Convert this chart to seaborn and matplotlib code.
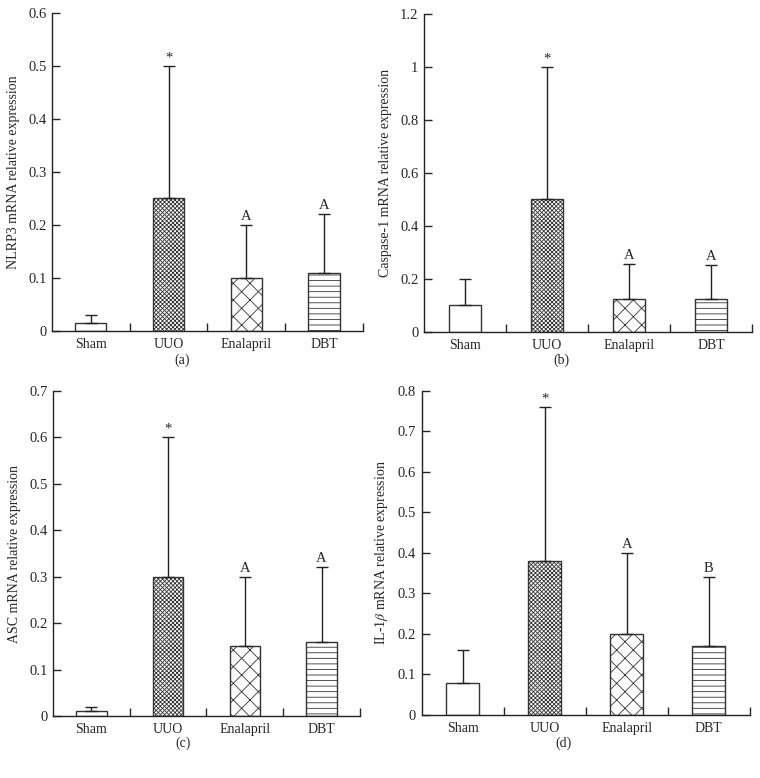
import numpy as np
import pandas as pd
import seaborn as sns
import matplotlib.pyplot as plt
from matplotlib.ticker import FixedLocator

# groups and read-off values (mean and upper error)
groups = ['Sham', 'UUO', 'Enalapril', 'DBT']

nlrp3_mean = [0.015, 0.25, 0.10, 0.11]
nlrp3_err = [0.015, 0.25, 0.10, 0.11]

casp1_mean = [0.10, 0.50, 0.125, 0.125]
casp1_err = [0.10, 0.50, 0.13, 0.128]

asc_mean = [0.01, 0.30, 0.15, 0.16]
asc_err = [0.01, 0.30, 0.15, 0.16]

il1b_mean = [0.08, 0.38, 0.20, 0.17]
il1b_err = [0.08, 0.38, 0.20, 0.17]

sig_a = ['', '*', 'A', 'A']
sig_b = ['', '*', 'A', 'A']
sig_c = ['', '*', 'A', 'A']
sig_d = ['', '*', 'A', 'B']

sns.set_style('white')
plt.rcParams['font.family'] = ['Liberation Serif', 'DejaVu Serif']
plt.rcParams['mathtext.fontset'] = 'stix'
plt.rcParams['hatch.linewidth'] = 0.6
plt.rcParams['hatch.color'] = '#222222'

hatches = ['', 'xxxxxxxx', 'xx', '---']

fig = plt.figure(figsize=(7.6, 7.78), dpi=100)

panels = [
    ([0.0684, 0.5746, 0.409, 0.4087], nlrp3_mean, nlrp3_err, sig_a, 0.6, 0.1,
     'NLRP3 mRNA relative expression', '(a)', (0.24, 0.537)),
    ([0.558, 0.5733, 0.4316, 0.4087], casp1_mean, casp1_err, sig_b, 1.2, 0.2,
     'Caspase-1 mRNA relative expression', '(b)', (0.739, 0.537)),
    ([0.0697, 0.0797, 0.404, 0.4177], asc_mean, asc_err, sig_c, 0.7, 0.1,
     'ASC mRNA relative expression', '(c)', (0.241, 0.045)),
    ([0.555, 0.081, 0.4316, 0.4165], il1b_mean, il1b_err, sig_d, 0.8, 0.1,
     r'IL-1$\beta$ mRNA relative expression', '(d)', (0.741, 0.045)),
]

for rect, mean, err, sig, ymax, step, ylab, tag, tagpos in panels:
    ax = fig.add_axes(rect)
    df = pd.DataFrame({'group': groups, 'value': mean})
    sns.barplot(data=df, x='group', y='value', color='white', width=0.4,
                edgecolor='#333333', linewidth=1.0, saturation=1, errorbar=None, ax=ax)
    for patch, h in zip(ax.patches, hatches):
        patch.set_hatch(h)
        patch.set_facecolor('white')

    xs = np.arange(len(groups))
    ax.errorbar(xs, mean, yerr=[np.zeros(len(mean)), err], fmt='none',
                ecolor='#222222', elinewidth=1.0, capsize=4.5, capthick=1.0)

    for x, m, e, s in zip(xs, mean, err, sig):
        if s:
            ax.text(x, m + e + ymax * 0.006, s, ha='center', va='bottom', fontsize=10.5)

    ax.set_xlim(-0.5, 3.5)
    ax.set_ylim(0, ymax)
    yt = np.round(np.arange(0, ymax + step / 2, step), 2)
    ax.set_yticks(yt)
    ax.set_yticklabels(['%g' % v for v in yt])
    ax.xaxis.set_minor_locator(FixedLocator([0.5, 1.5, 2.5, 3.5]))
    ax.tick_params(axis='x', which='major', length=0, labelsize=10, pad=5)
    ax.tick_params(axis='x', which='minor', direction='in', length=6, width=1, bottom=True)
    ax.tick_params(axis='y', direction='in', length=6, width=1, left=True, labelsize=10.5, pad=4)
    ax.set_xlabel('')
    ax.set_ylabel(ylab, fontsize=10, labelpad=6)
    for side in ['top', 'right']:
        ax.spines[side].set_visible(False)
    for side in ['left', 'bottom']:
        ax.spines[side].set_color('#222222')
        ax.spines[side].set_linewidth(1.0)

    fig.text(tagpos[0], tagpos[1], tag, ha='center', va='center', fontsize=10)

fig.savefig('out.png', dpi=100)
